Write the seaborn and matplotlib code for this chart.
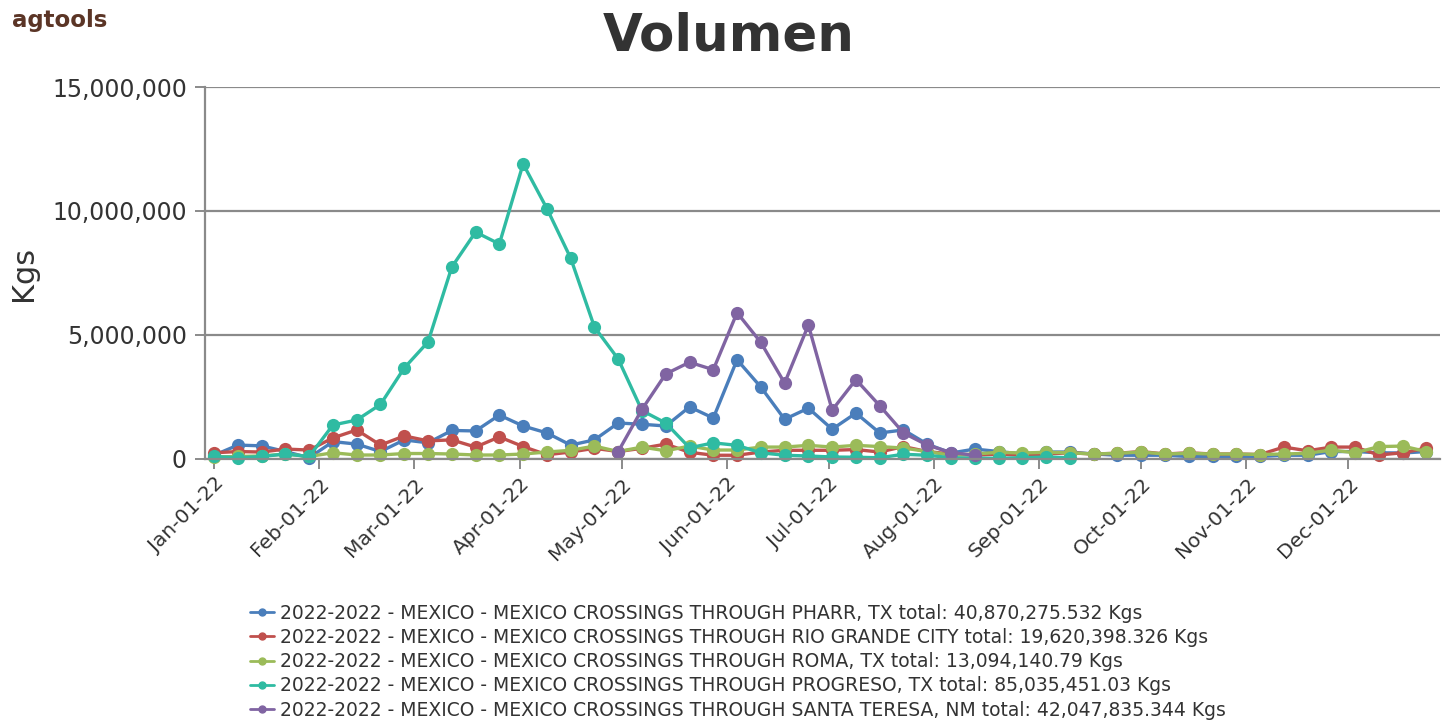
"""
Weekly volume of crossings from Mexico in 2022, one line per port.
Saves the chart as out.png.
"""

import numpy as np
import pandas as pd
import seaborn as sns
import matplotlib.pyplot as plt
import matplotlib.dates as mdates
from matplotlib.lines import Line2D
from matplotlib.ticker import FuncFormatter

nan = np.nan

weeks = pd.date_range('2022-01-01', periods=52, freq='7D')

# weekly volume, millions of kg
pharr = [0.15, 0.56, 0.53, 0.3, 0.05, 0.7, 0.6, 0.3, 0.77, 0.65,
         1.15, 1.13, 1.77, 1.33, 1.05, 0.56, 0.77, 1.45, 1.4, 1.33,
         2.1, 1.65, 4.0, 2.9, 1.6, 2.05, 1.2, 1.85, 1.05, 1.17,
         0.6, 0.24, 0.4, 0.3, 0.2, 0.28, 0.28, 0.2, 0.15, 0.15,
         0.15, 0.1, 0.1, 0.1, 0.1, 0.15, 0.15, 0.3, 0.3, 0.25,
         0.24, 0.3]
rio_grande = [0.25, 0.3, 0.28, 0.4, 0.36, 0.85, 1.17, 0.56, 0.93, 0.73,
              0.77, 0.48, 0.89, 0.5, 0.17, 0.28, 0.43, 0.3, 0.43, 0.6,
              0.27, 0.15, 0.15, 0.28, 0.35, 0.35, 0.35, 0.38, 0.28, 0.5,
              0.3, 0.2, 0.15, 0.2, 0.15, 0.2, 0.25, 0.2, 0.23, 0.3,
              0.2, 0.25, 0.2, 0.2, 0.18, 0.48, 0.33, 0.48, 0.48, 0.16,
              0.25, 0.44]
roma = [0.08, 0.1, 0.12, 0.2, 0.1, 0.25, 0.16, 0.16, 0.22, 0.22,
        0.2, 0.16, 0.16, 0.2, 0.28, 0.35, 0.52, 0.3, 0.48, 0.33,
        0.52, 0.36, 0.36, 0.48, 0.48, 0.55, 0.48, 0.55, 0.5, 0.44,
        0.3, 0.15, 0.2, 0.27, 0.24, 0.27, 0.25, 0.2, 0.23, 0.28,
        0.2, 0.23, 0.2, 0.2, 0.18, 0.2, 0.23, 0.36, 0.25, 0.5,
        0.52, 0.3]
progreso = [0.1, 0.05, 0.1, 0.2, 0.1, 1.37, 1.57, 2.2, 3.67, 4.72,
            7.74, 9.15, 8.67, 11.9, 10.1, 8.1, 5.32, 4.03, 1.95, 1.45,
            0.45, 0.65, 0.55, 0.25, 0.15, 0.12, 0.08, 0.07, 0.05, 0.19,
            0.15, 0.05, 0.03, 0.03, 0.05, 0.08, 0.05, nan, nan, nan,
            nan, nan, nan, nan, nan, nan, nan, nan, nan, nan,
            nan, nan]
santa_teresa = [nan, nan, nan, nan, nan, nan, nan, nan, nan, nan,
                nan, nan, nan, nan, nan, nan, nan, 0.3, 2.0, 3.43,
                3.9, 3.6, 5.9, 4.7, 3.06, 5.4, 1.97, 3.2, 2.15, 1.05,
                0.56, 0.26, 0.15, nan, nan, nan, nan, nan, nan, nan,
                nan, nan, nan, nan, nan, nan, nan, nan, nan, nan,
                nan, nan]

series_names = [
    '2022-2022 - MEXICO - MEXICO CROSSINGS THROUGH PHARR, TX total: 40,870,275.532 Kgs',
    '2022-2022 - MEXICO - MEXICO CROSSINGS THROUGH RIO GRANDE CITY total: 19,620,398.326 Kgs',
    '2022-2022 - MEXICO - MEXICO CROSSINGS THROUGH ROMA, TX total: 13,094,140.79 Kgs',
    '2022-2022 - MEXICO - MEXICO CROSSINGS THROUGH PROGRESO, TX total: 85,035,451.03 Kgs',
    '2022-2022 - MEXICO - MEXICO CROSSINGS THROUGH SANTA TERESA, NM total: 42,047,835.344 Kgs',
]
colors = ['#4a7ebb', '#c0504d', '#9bbb59', '#2fbba2', '#8064a2']

sns.set_theme(style='white')
plt.rcParams['font.family'] = ['DejaVu Sans']

fig = plt.figure(figsize=(14.48, 7.22), dpi=100)
ax = fig.add_axes([0.1416, 0.3643, 0.8529, 0.5152])

all_series = [pharr, rio_grande, roma, progreso, santa_teresa]
for values, color in zip(all_series, colors):
    df = pd.DataFrame({'Week': weeks, 'Kgs': np.array(values) * 1e6})
    sns.lineplot(data=df, x='Week', y='Kgs', color=color, ax=ax,
                 marker='o', markersize=9.5, markeredgewidth=0,
                 linewidth=2.4)

for line in ax.lines:
    line.set_clip_on(False)

ax.set_ylim(0, 15e6)
ax.set_yticks([0, 5e6, 10e6, 15e6])
ax.yaxis.set_major_formatter(FuncFormatter(lambda v, p: f'{v:,.0f}'))
ax.set_xlim(pd.Timestamp('2021-12-29 08:00'), pd.Timestamp('2022-12-28'))
ax.xaxis.set_major_locator(mdates.MonthLocator())
ax.xaxis.set_major_formatter(mdates.DateFormatter('%b-%d-%y'))

ax.grid(axis='y', color='#8a8a8a', linewidth=1.6)
ax.grid(axis='x', visible=False)
for side in ['top', 'right']:
    ax.spines[side].set_visible(False)
for side in ['left', 'bottom']:
    ax.spines[side].set_color('#8a8a8a')
    ax.spines[side].set_linewidth(1.6)
ax.tick_params(axis='both', length=7, width=1.4, color='#8a8a8a',
               colors='#333333', left=True, bottom=True)
ax.tick_params(axis='y', labelsize=17, pad=6)
ax.tick_params(axis='x', labelsize=14.5, pad=4)
plt.setp(ax.get_xticklabels(), rotation=45, ha='right',
         rotation_mode='anchor')

ax.set_xlabel('')
ax.set_ylabel('Kgs', fontsize=22, color='#333333', labelpad=10)

fig.text(0.503, 0.95, 'Volumen', fontsize=37, fontweight='bold',
         color='#333333', ha='center', va='center')
fig.text(0.008, 0.972, 'agtools', fontsize=16.5, color='#5b3526',
         ha='left', va='center', fontweight='semibold')

handles = [Line2D([], [], color=c, marker='o', markersize=5,
                  linewidth=2) for c in colors]
fig.legend(handles, series_names, loc='upper left',
           bbox_to_anchor=(0.166, 0.177), frameon=False, handlelength=1.3,
           handletextpad=0.3, labelspacing=0.28, borderpad=0,
           prop={'size': 13.5}, labelcolor='#333333')

plt.savefig('out.png', dpi=100)
